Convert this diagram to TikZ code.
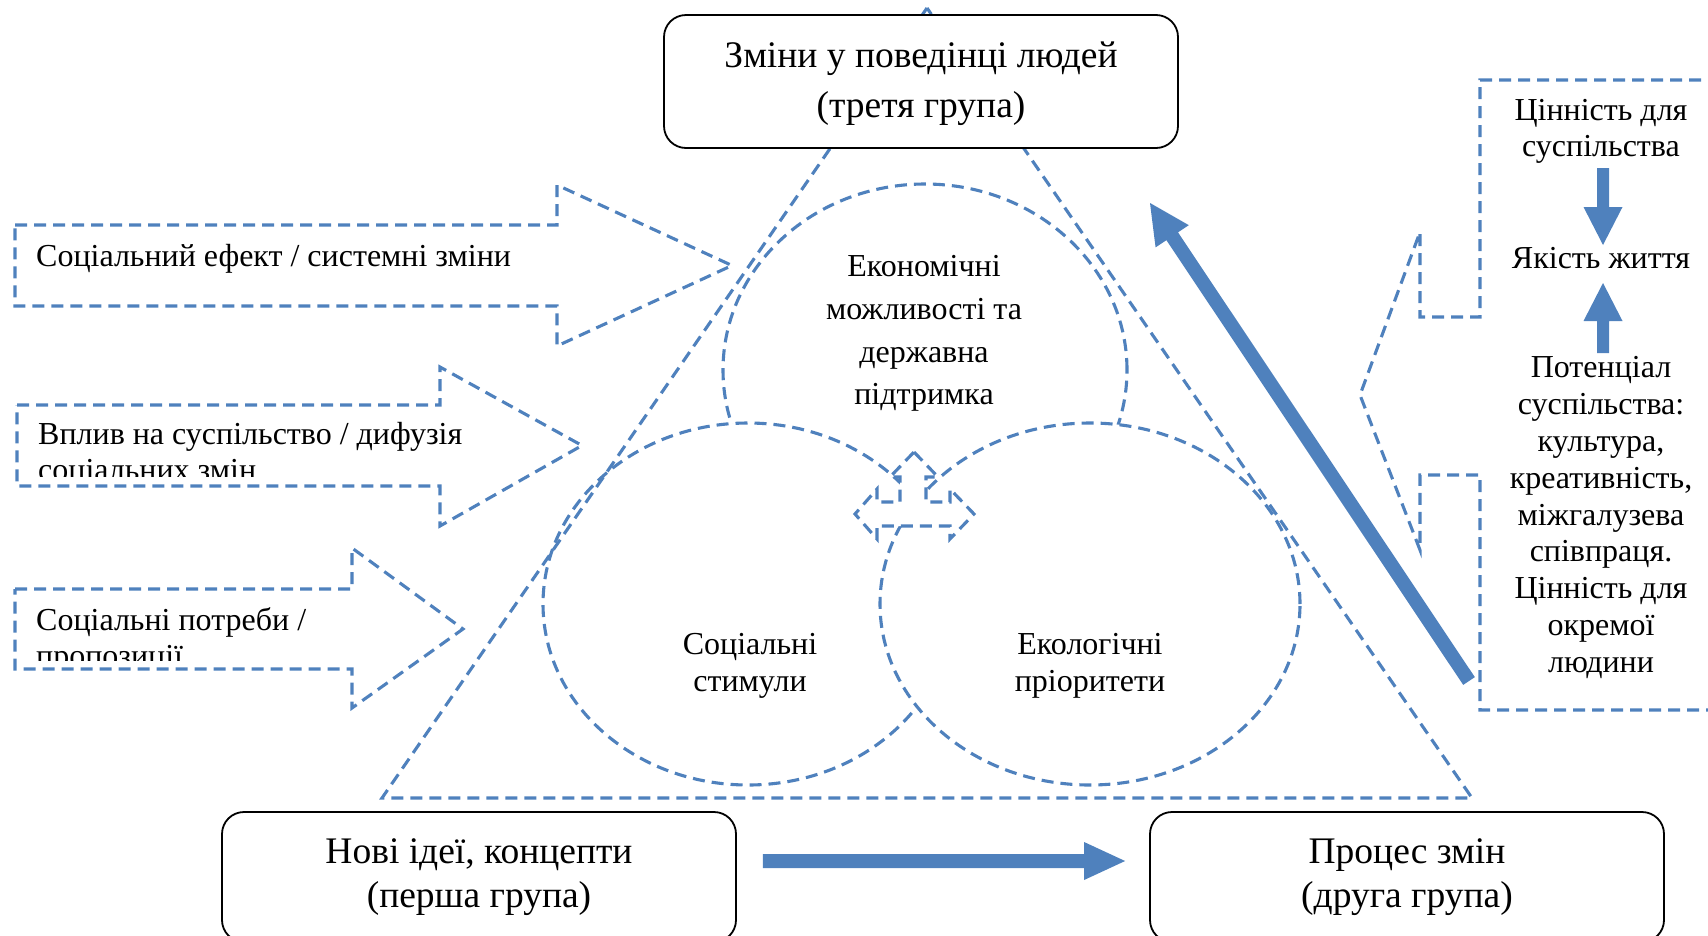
\documentclass[tikz,border=0pt]{standalone}
\usepackage{fontspec}
\setmainfont{Liberation Serif}
\usetikzlibrary{calc,shapes.geometric}
\definecolor{accent}{RGB}{79,129,189}
\tikzset{
  dashln/.style={draw=accent, line width=3.1pt, dash pattern=on 12pt off 7pt},
  boxnode/.style={draw=black, line width=1.8pt, rounded corners=22pt, fill=white, align=center,
    inner sep=0pt, minimum width=514pt},
  ovalnode/.style={ellipse, dashln, fill=white, inner sep=0pt, outer sep=0pt},
  ctext/.style={align=center, inner sep=0pt},
  ltext/.style={anchor=base west, font=\fontsize{32}{36}\selectfont, inner sep=0pt},
  rtext/.style={align=center, inner sep=0pt},
}
\newcommand\drawfatarrow[5]{%
  \coordinate (fatH) at ($(#2)!#5!(#1)$);
  \fill[accent] ($(#1)!#3!90:(#2)$) -- ($(fatH)!#3!90:(#2)$) -- ($(fatH)!#4!90:(#2)$) -- (#2)
    -- ($(fatH)!#4!-90:(#2)$) -- ($(fatH)!#3!-90:(#2)$) -- ($(#1)!#3!-90:(#2)$) -- cycle;}
\begin{document}
\begin{tikzpicture}[x=1pt,y=-1pt]
\useasboundingbox (0,0) rectangle (1708,935);
% ---- circles
\node[ovalnode, minimum width=404pt, minimum height=372pt] (eco) at (925,370) {};
\node[ovalnode, minimum width=410pt, minimum height=362pt] (soc) at (748,604) {};
\node[ovalnode, minimum width=420pt, minimum height=362pt] (ecol) at (1090,604) {};
\node[ctext, font=\fontsize{32}{42.7}\selectfont] (ecot) at (924,333.5) {Економічні\\можливості та\\державна\\підтримка};
\node[ctext, font=\fontsize{32}{37}\selectfont] (soct) at (750,666) {Соціальні\\стимули};
\node[ctext, font=\fontsize{32}{37}\selectfont] (ecolt) at (1090,666) {Екологічні\\пріоритети};
% ---- three-way arrow in the middle
\draw[dashln, fill=white] (914,452) -- (938,477) -- (926,477) -- (926,502) -- (950,502) -- (950,489)
  -- (974,514) -- (950,539) -- (950,526) -- (877,526) -- (877,539) -- (855,514) -- (877,489)
  -- (877,502) -- (900,502) -- (900,477) -- (890,477) -- cycle;
% ---- triangle
\coordinate (tA) at (927,8);
\coordinate (tB) at (382,798);
\coordinate (tC) at (1472,798);
\draw[dashln] (tA) -- (tB) -- (tC) -- cycle;
% ---- left block arrows
\draw[dashln] (15,225) -- (557,225) -- (557,185) -- (732,265.5) -- (557,346) -- (557,306) -- (15,306) -- cycle;
\draw[dashln] (17,405) -- (440,405) -- (440,367) -- (582,445.5) -- (440,526) -- (440,486) -- (17,486) -- cycle;
\draw[dashln] (15,589) -- (352,589) -- (352,548) -- (463,629) -- (352,708) -- (352,669) -- (15,669) -- cycle;
\node[ltext] (a1t) at (36,266) {Соціальний ефект / системні зміни};
\begin{scope}
  \clip (17,405) rectangle (600,476);
  \node[ltext] (a2t) at (38,444) {Вплив на суспільство / дифузія};
  \node[ltext] (a2u) at (38,480) {соціальних змін};
\end{scope}
\begin{scope}
  \clip (15,589) rectangle (600,660);
  \node[ltext] (a3t) at (36,630) {Соціальні потреби /};
  \node[ltext] (a3u) at (36,666) {пропозиції};
\end{scope}
% ---- right callout
\draw[dashln] (1720,80) -- (1480,80) -- (1480,317) -- (1420,317) -- (1420,232) -- (1360,395)
  -- (1420,550) -- (1420,475) -- (1480,475) -- (1480,710) -- (1720,710);
\node[rtext, font=\fontsize{32}{36}\selectfont] (v1) at (1601,131.6) {Цінність для\\суспільства};
\node[inner sep=0pt, anchor=base, font=\fontsize{32}{36}\selectfont] (v2) at (1601,268) {Якість життя};
\node[rtext, font=\fontsize{32}{36.9}\selectfont] (v3) at (1601,517.5) {Потенціал\\суспільства:\\культура,\\креативність,\\міжгалузева\\співпраця.\\Цінність для\\окремої\\людини};
\coordinate (d1a) at (1603,168);
\coordinate (d1b) at (1603,245);
\coordinate (d2a) at (1603,353);
\coordinate (d2b) at (1603,283);
\drawfatarrow{d1a}{d1b}{6pt}{19.5pt}{38pt}
\drawfatarrow{d2a}{d2b}{6pt}{19.5pt}{38pt}
% ---- big arrows
\coordinate (dtail) at (1469,681);
\coordinate (dtip) at (1150,203);
\drawfatarrow{dtail}{dtip}{7pt}{20pt}{40pt}
% ---- boxes
\node[boxnode, minimum height=133pt, font=\fontsize{37.5}{50}\selectfont] (b3) at (921,81.5)
  {\rule{0pt}{31pt}Зміни у поведінці людей\\(третя група)};
\node[boxnode, minimum height=130pt, font=\fontsize{37.5}{44}\selectfont] (b1) at (479,877)
  {Нові ідеї, концепти\\(перша група)};
\node[boxnode, minimum height=130pt, font=\fontsize{37.5}{44}\selectfont] (b2) at (1407,877)
  {Процес змін\\(друга група)};
\coordinate (ha) at ($(b1.east |- 0,861)+(26,0)$);
\coordinate (hb) at ($(b2.west |- 0,861)+(-24,0)$);
\drawfatarrow{ha}{hb}{7pt}{19pt}{41pt}
\end{tikzpicture}
\end{document}
